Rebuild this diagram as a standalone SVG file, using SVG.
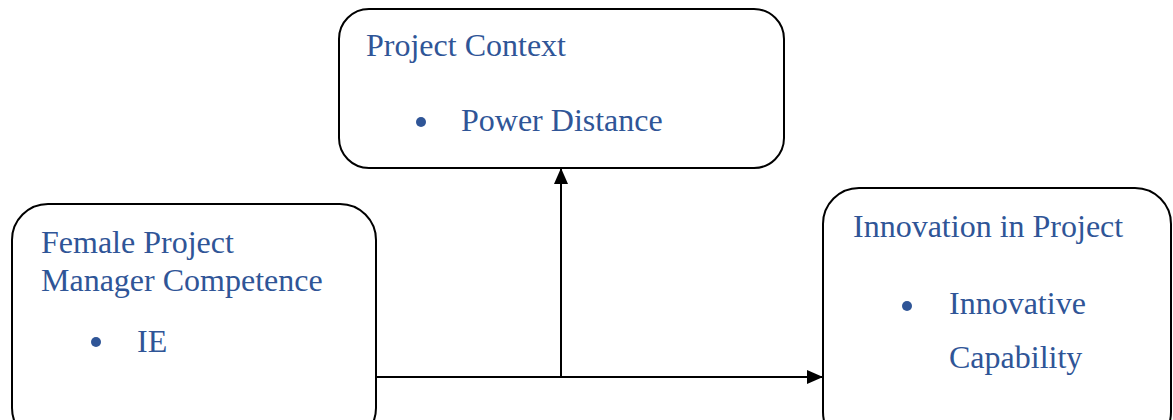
<svg xmlns="http://www.w3.org/2000/svg" width="1173" height="420" viewBox="0 0 1173 420">
<style>
.box{fill:#fff;stroke:#000;stroke-width:2}
.t{font-family:"Liberation Serif","Times New Roman",serif;font-size:32px;fill:#2F5597}
.b{fill:#2F5597}
.c{stroke:#000;stroke-width:2;fill:none}
</style>
<defs>
<marker id="ah" markerWidth="16" markerHeight="14" refX="16" refY="7" orient="auto" markerUnits="userSpaceOnUse">
<path d="M0,0 L16,7 L0,14 Z" fill="#000"/>
</marker>
</defs>
<g id="project-context">
<rect class="box" x="339" y="9" width="445" height="159" rx="30"/>
<text class="t" x="366" y="56">Project Context</text>
<circle class="b" cx="421" cy="122" r="5"/>
<text class="t" x="461" y="131">Power Distance</text>
</g>
<g id="female-pm">
<rect class="box" x="12" y="204" width="364" height="240" rx="36"/>
<text class="t" x="41" y="253">Female Project</text>
<text class="t" x="41" y="291">Manager Competence</text>
<circle class="b" cx="96" cy="342" r="5"/>
<text class="t" x="137" y="352">IE</text>
</g>
<g id="innovation">
<rect class="box" x="823" y="188" width="348" height="260" rx="36"/>
<text class="t" x="853" y="237">Innovation in Project</text>
<circle class="b" cx="907" cy="306" r="5"/>
<text class="t" x="949" y="314">Innovative</text>
<text class="t" x="949" y="368">Capability</text>
</g>
<g id="connectors">
<line class="c" x1="376" y1="377" x2="823" y2="377" marker-end="url(#ah)"/>
<line class="c" x1="561" y1="377" x2="561" y2="168" marker-end="url(#ah)"/>
</g>
</svg>
